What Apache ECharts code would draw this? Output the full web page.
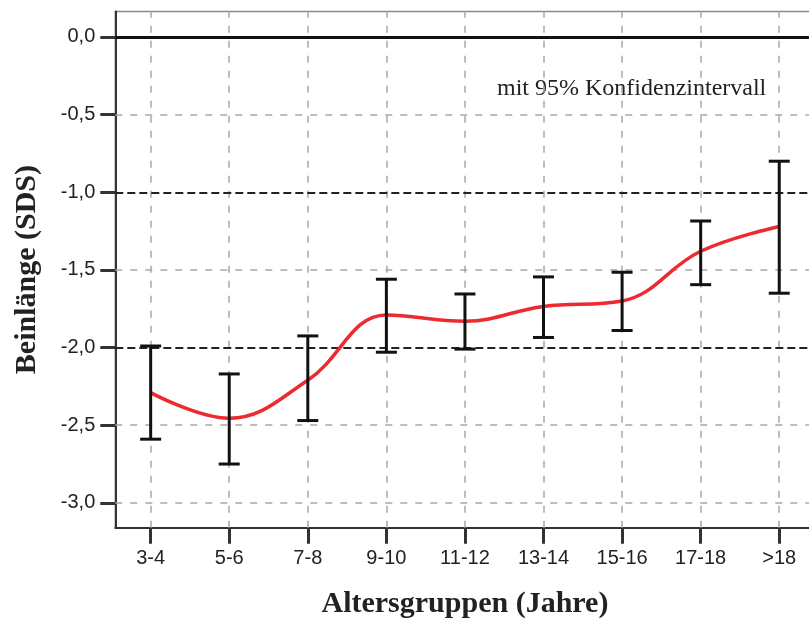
<!DOCTYPE html>
<html>
<head>
<meta charset="utf-8">
<script src="https://cdn.jsdelivr.net/npm/echarts@6/dist/echarts.min.js"></script>
<style>
  html, body { margin: 0; padding: 0; background: #fff; }
  #chart { width: 809px; height: 623px; }
</style>
</head>
<body>
<div id="chart"></div>
<script>
// age groups on x (SDS)
const categories = ['3-4', '5-6', '7-8', '9-10', '11-12', '13-14', '15-16', '17-18', '>18'];
const means = [-2.29, -2.455, -2.21, -1.79, -1.83, -1.735, -1.70, -1.38, -1.22];
const lower = [-2.59, -2.75, -2.47, -2.03, -2.01, -1.935, -1.89, -1.595, -1.65];
const upper = [-1.99, -2.17, -1.925, -1.56, -1.655, -1.545, -1.515, -1.185, -0.80];
const yTicks = [0, -0.5, -1, -1.5, -2, -2.5, -3];
const refLines = [-1, -2];
const annotation = 'mit 95% Konfidenzintervall';

const xIdx = categories.map((c, i) => i);
const fmtComma = v => v.toFixed(1).replace('.', ',').replace('-0,0', '0,0');

const chart = echarts.init(document.getElementById('chart'), null, { renderer: 'canvas' });

const gridDash = { color: '#a8a8a8', width: 1.5, type: [7, 8] };

chart.setOption({
  animation: false,
  grid: {
    left: 115.3, top: 11.5, width: 699.3, bottom: 95.3,
    show: true, borderColor: '#8a8a8a', borderWidth: 1.5,
    containLabel: false, outerBoundsMode: 'none'
  },
  graphic: [{
    type: 'text', left: 497, top: 77,
    style: { text: annotation, font: '24px "Liberation Serif"', fill: '#222' }
  }],
  xAxis: {
    type: 'value', min: -0.45, max: 8.45,
    name: 'Altersgruppen (Jahre)', nameLocation: 'middle', nameGap: 62,
    nameTextStyle: { fontFamily: 'Liberation Serif', fontWeight: 'bold', fontSize: 30, color: '#222' },
    axisLine: { onZero: false, lineStyle: { color: '#333', width: 2 } },
    axisTick: { customValues: xIdx, length: 16, lineStyle: { color: '#333', width: 3 } },
    axisLabel: {
      customValues: xIdx, margin: 21,
      fontFamily: 'Liberation Sans', fontSize: 20, color: '#222',
      formatter: v => categories[Math.round(v)] || ''
    },
    splitLine: { show: false }
  },
  yAxis: {
    type: 'value', min: -3.16, max: 0.164,
    name: 'Beinlänge (SDS)', nameLocation: 'middle', nameGap: 73,
    nameTextStyle: { fontFamily: 'Liberation Serif', fontWeight: 'bold', fontSize: 30, color: '#222' },
    axisLine: { onZero: false, lineStyle: { color: '#333', width: 2 } },
    axisTick: { customValues: yTicks, length: 15, lineStyle: { color: '#333', width: 3 } },
    axisLabel: {
      customValues: yTicks, margin: 20,
      fontFamily: 'Liberation Sans', fontSize: 20, color: '#222',
      formatter: v => fmtComma(v)
    },
    splitLine: { show: false }
  },
  series: [
    {
      // grid lines + reference lines
      type: 'line', data: [], z: 1, silent: true,
      markLine: {
        z: 1, silent: true, symbol: 'none', label: { show: false },
        data: [
          ...xIdx.map(i => ({ xAxis: i, lineStyle: gridDash })),
          ...yTicks.filter(v => v !== 0 && !refLines.includes(v)).map(v => ({ yAxis: v, lineStyle: gridDash })),
          ...refLines.map(v => ({ yAxis: v, lineStyle: { color: '#222', width: 2, type: [8, 4] } })),
          { yAxis: 0, lineStyle: { color: '#111', width: 3, type: 'solid' } }
        ]
      }
    },
    {
      type: 'line', z: 3, smooth: 0.4, symbol: 'none',
      data: xIdx.map(i => [i, means[i]]),
      lineStyle: { color: '#ec2a30', width: 3.5 }
    },
    {
      type: 'custom', z: 4,
      data: xIdx.map(i => [i, lower[i], upper[i]]),
      encode: { x: 0, y: [1, 2] },
      renderItem: (params, api) => {
        const x = api.value(0);
        const pLo = api.coord([x, api.value(1)]);
        const pHi = api.coord([x, api.value(2)]);
        const hw = 10.5;
        const style = { stroke: '#111', lineWidth: 3 };
        return {
          type: 'group',
          children: [
            { type: 'line', shape: { x1: pHi[0], y1: pHi[1], x2: pLo[0], y2: pLo[1] }, style },
            { type: 'line', shape: { x1: pHi[0] - hw, y1: pHi[1], x2: pHi[0] + hw, y2: pHi[1] }, style },
            { type: 'line', shape: { x1: pLo[0] - hw, y1: pLo[1], x2: pLo[0] + hw, y2: pLo[1] }, style }
          ]
        };
      }
    }
  ]
});
</script>
</body>
</html>
